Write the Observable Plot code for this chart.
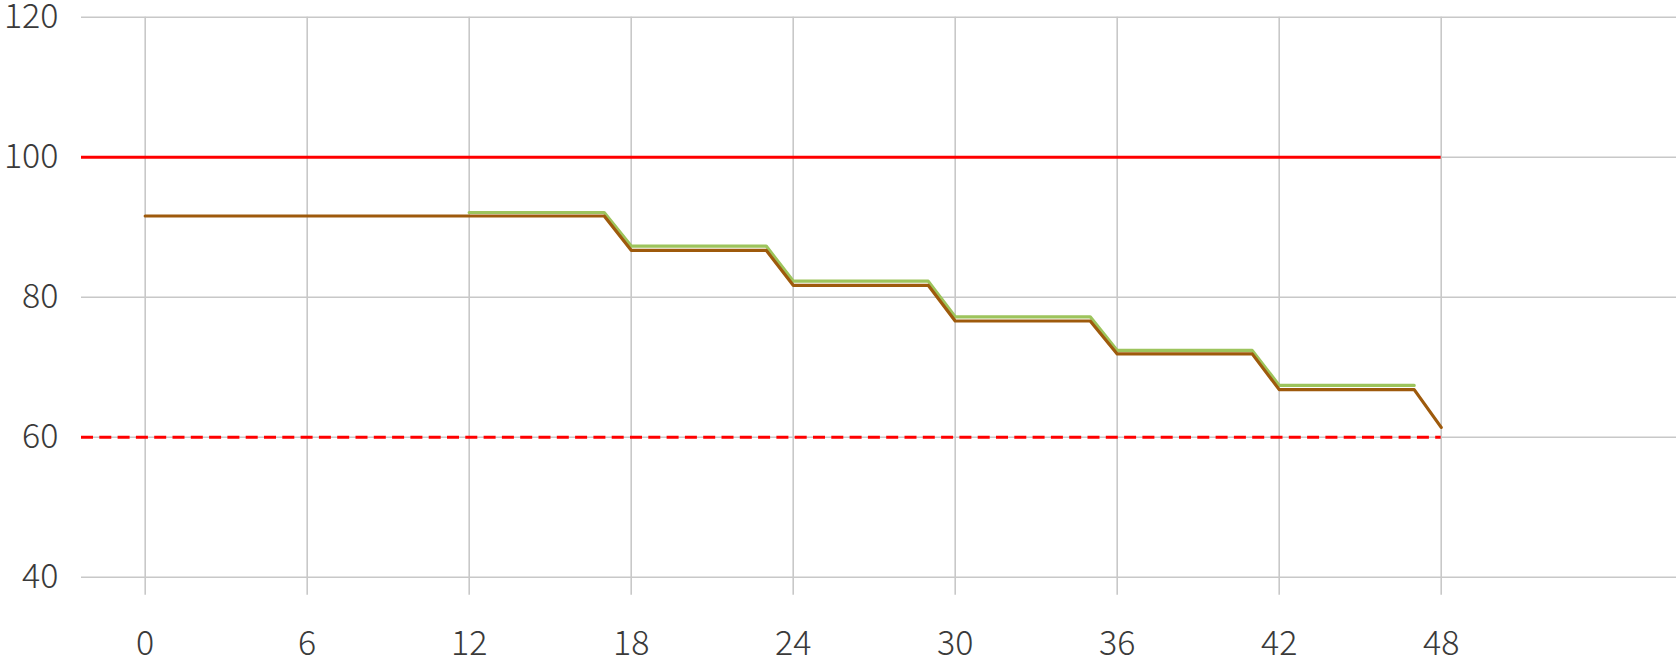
<!DOCTYPE html>
<html>
<head>
<meta charset="utf-8">
<script src="https://cdn.jsdelivr.net/npm/d3@7"></script>
<script src="https://cdn.jsdelivr.net/npm/@observablehq/plot@0.6"></script>
<style>
  html, body { margin: 0; padding: 0; background: #fff; overflow: hidden; }
  #chart svg { display: block; }
</style>
</head>
<body>
<div id="chart"></div>
<script>
// ---- data ----
const xTicks = [0, 6, 12, 18, 24, 30, 36, 42, 48];
const yTicks = [40, 60, 80, 100, 120];

const brownHours  = [0, 17, 18, 23, 24, 29, 30, 35, 36, 41, 42, 47, 48];
const brownValues = [91.6, 91.6, 86.7, 86.7, 81.7, 81.7, 76.6, 76.6, 71.9, 71.9, 66.8, 66.8, 61.4];

const greenHours  = [12, 17, 18, 23, 24, 29, 30, 35, 36, 41, 42, 47];
const greenValues = [92.1, 92.1, 87.3, 87.3, 82.3, 82.3, 77.2, 77.2, 72.4, 72.4, 67.4, 67.4];

const upperLimit = [100];
const lowerLimit = [60];
const limitEndHour = 48;

// ---- build tables ----
const brown = brownHours.map((h, i) => ({h, v: brownValues[i]}));
const green = greenHours.map((h, i) => ({h, v: greenValues[i]}));

const W = 1676, H = 659;
const mLeft = 81, mTop = 16.7, yBottomPx = 576.7;
const xRange = [144.7, 1440.7];
const xDomain = [0, 48];
// hour value at the left edge of the frame
const xLeftEdge = xDomain[0] - (xRange[0] - mLeft) * (xDomain[1] - xDomain[0]) / (xRange[1] - xRange[0]);
// vertical gridlines extend a little below the 40 line
const gridBottom = 40 - 18 * (120 - 40) / (yBottomPx - mTop);

const gridColor = "#c8c8c8";

const chart = Plot.plot({
  width: W,
  height: H,
  marginLeft: mLeft,
  marginRight: 0,
  marginTop: mTop,
  marginBottom: H - yBottomPx,
  style: {
    fontFamily: "'Noto Sans CJK SC', 'Noto Sans', sans-serif",
    fontSize: "34px",
    fontWeight: 300,
    color: "#3a3a3a",
    background: "#fff"
  },
  x: {domain: xDomain, range: xRange},
  y: {domain: [40, 120], range: [yBottomPx, mTop]},
  marks: [
    // horizontal gridlines across the full frame
    Plot.ruleY(yTicks, {stroke: gridColor, strokeWidth: 1.6}),
    // vertical gridlines
    Plot.ruleX(xTicks, {y1: 120, y2: gridBottom, stroke: gridColor, strokeWidth: 1.6}),
    // limit lines
    Plot.ruleY(upperLimit, {x1: xLeftEdge, x2: limitEndHour, stroke: "#ff0000", strokeWidth: 3}),
    Plot.ruleY(lowerLimit, {x1: xLeftEdge, x2: limitEndHour, stroke: "#ff0000", strokeWidth: 3, strokeDasharray: "12,6.3"}),
    // series
    Plot.line(green, {x: "h", y: "v", stroke: "#9dc45c", strokeWidth: 3.2}),
    Plot.line(brown, {x: "h", y: "v", stroke: "#9e5a0c", strokeWidth: 3.2}),
    // axes
    Plot.axisY(yTicks, {tickSize: 0, tickPadding: 23, label: null}),
    Plot.axisX(xTicks, {tickSize: 0, tickPadding: 54, label: null})
  ]
});

document.getElementById("chart").appendChild(chart);
</script>
</body>
</html>
